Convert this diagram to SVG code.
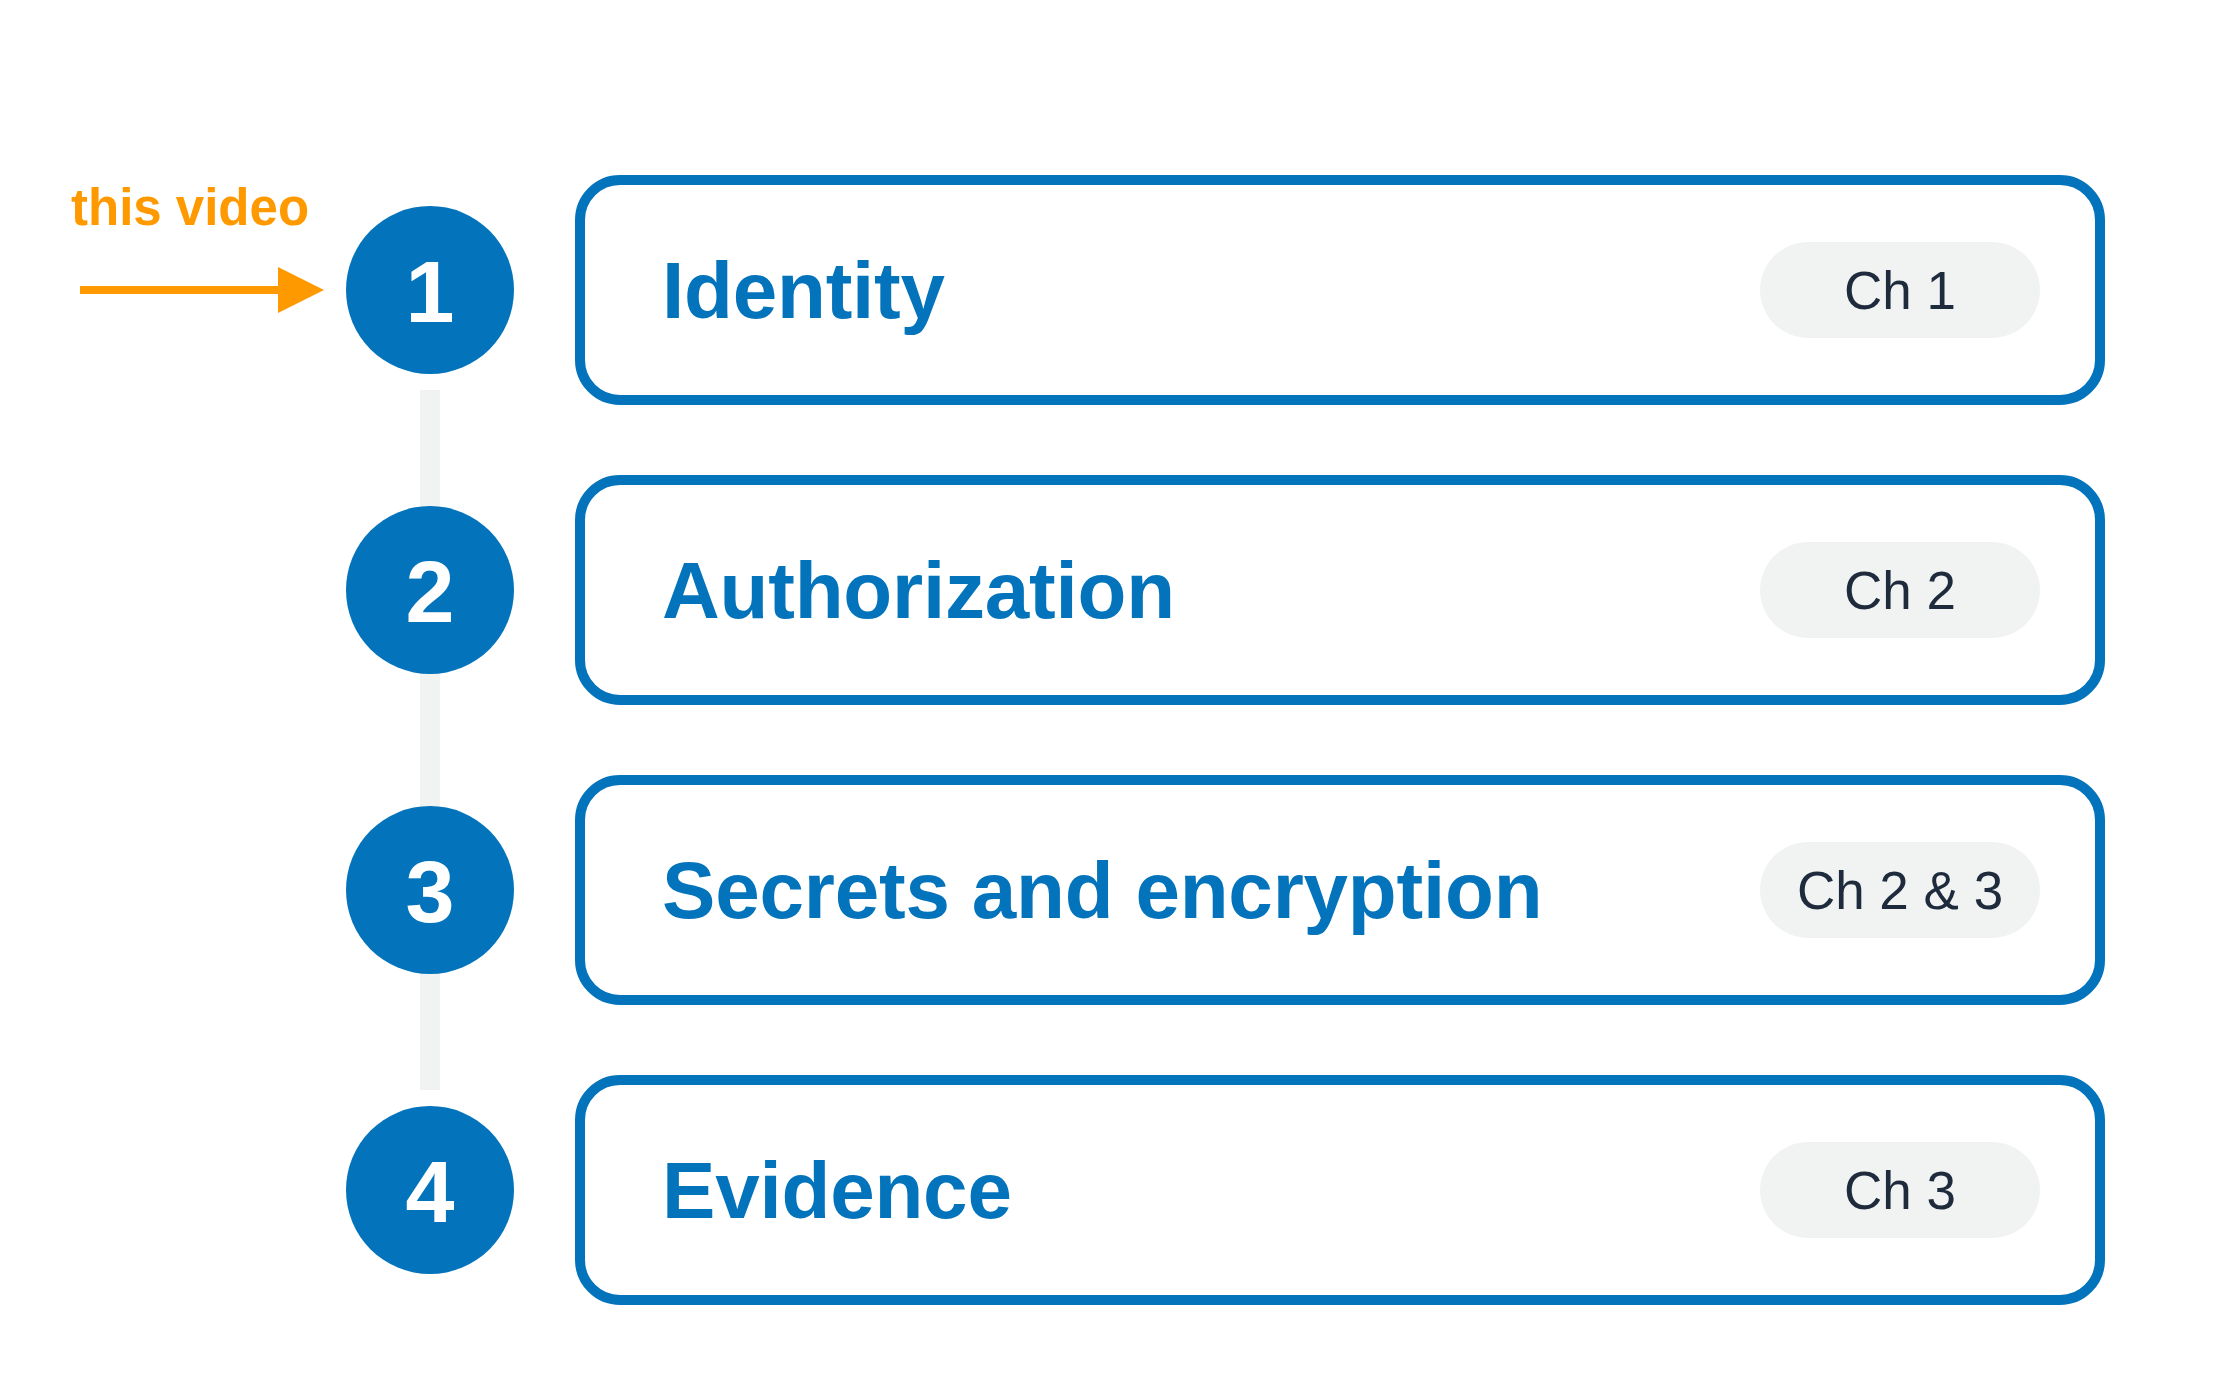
<svg xmlns="http://www.w3.org/2000/svg" width="2240" height="1400" viewBox="0 0 2240 1400">
  <style>
    .box { fill: #ffffff; stroke: #0374bc; stroke-width: 10; }
    .pill { fill: #f1f3f3; }
    .dot { fill: #0374bc; }
    .num { font-family: "Liberation Sans", Arial, sans-serif; font-weight: bold; font-size: 88px; fill: #ffffff; text-anchor: middle; }
    .title { font-family: "Liberation Sans", Arial, sans-serif; font-weight: bold; font-size: 80px; fill: #0374bc; letter-spacing: -0.2px; }
    .ch { font-family: "Liberation Sans", Arial, sans-serif; font-size: 53px; fill: #1e2b3c; text-anchor: middle; }
    .note { font-family: "Liberation Sans", Arial, sans-serif; font-weight: bold; font-size: 51px; fill: #ff9900; }
  </style>
  <defs>
    <marker id="arrowhead" viewBox="0 0 46 46" refX="22" refY="23" markerWidth="46" markerHeight="46" markerUnits="userSpaceOnUse" orient="auto">
      <path d="M0,0 L46,23 L0,46 Z" fill="#ff9900"/>
    </marker>
  </defs>
  <rect width="2240" height="1400" fill="#ffffff"/>

  <g id="connectors">
    <rect x="420" y="390" width="20" height="700" fill="#f1f3f3"/>
    <line x1="80" y1="290" x2="300" y2="290" stroke="#ff9900" stroke-width="8" marker-end="url(#arrowhead)"/>
  </g>

  <g id="note">
    <text class="note" x="71" y="225">this video</text>
  </g>

  <g id="step1">
    <circle class="dot" cx="430" cy="290" r="84"/>
    <text class="num" x="430" y="322">1</text>
    <rect class="box" x="580" y="180" width="1520" height="220" rx="40"/>
    <text class="title" x="662" y="318">Identity</text>
    <rect class="pill" x="1760" y="242" width="280" height="96" rx="48"/>
    <text class="ch" x="1900" y="309">Ch 1</text>
  </g>

  <g id="step2">
    <circle class="dot" cx="430" cy="590" r="84"/>
    <text class="num" x="430" y="622">2</text>
    <rect class="box" x="580" y="480" width="1520" height="220" rx="40"/>
    <text class="title" x="662" y="618">Authorization</text>
    <rect class="pill" x="1760" y="542" width="280" height="96" rx="48"/>
    <text class="ch" x="1900" y="609">Ch 2</text>
  </g>

  <g id="step3">
    <circle class="dot" cx="430" cy="890" r="84"/>
    <text class="num" x="430" y="922">3</text>
    <rect class="box" x="580" y="780" width="1520" height="220" rx="40"/>
    <text class="title" x="662" y="918">Secrets and encryption</text>
    <rect class="pill" x="1760" y="842" width="280" height="96" rx="48"/>
    <text class="ch" x="1900" y="909">Ch 2 &amp; 3</text>
  </g>

  <g id="step4">
    <circle class="dot" cx="430" cy="1190" r="84"/>
    <text class="num" x="430" y="1222">4</text>
    <rect class="box" x="580" y="1080" width="1520" height="220" rx="40"/>
    <text class="title" x="662" y="1218">Evidence</text>
    <rect class="pill" x="1760" y="1142" width="280" height="96" rx="48"/>
    <text class="ch" x="1900" y="1209">Ch 3</text>
  </g>
</svg>
